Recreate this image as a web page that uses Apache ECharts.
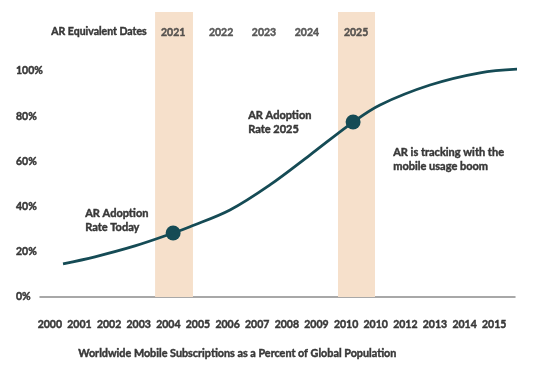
<!DOCTYPE html>
<html>
<head>
<meta charset="utf-8">
<script src="https://cdn.jsdelivr.net/npm/echarts@6/dist/echarts.min.js"></script>
<style>
html,body{margin:0;padding:0;background:#fff;}
#c{width:535px;height:365px;}
</style>
</head>
<body>
<div id="c"></div>
<script>
// Category tick labels along the bottom (as printed in the original)
var xLabels = ['2000','2001','2002','2003','2004','2005','2006','2007','2008','2009','2010','2010','2012','2013','2014','2015'];
// Adoption curve: x in years, y in percent
var curveYears = [2000.44, 2001.52, 2002.87, 2004.16, 2004.73, 2006.08, 2007.43, 2008.78, 2010.24, 2011.15, 2012.84, 2014.53, 2015.88];
var curveValues = [14.7, 17.8, 22.6, 28.3, 31.1, 38.5, 49.6, 62.8, 77.4, 85.0, 93.8, 99.2, 100.9];
// Highlighted adoption points
var markerYears = [2004.16, 2010.24];
var markerValues = [28.3, 77.4];
// Highlight bands (year ranges)
var bandStart = [2003.55, 2009.73];
var bandEnd = [2004.83, 2010.98];
// AR equivalent dates row
var arDates = ['2021', '2022', '2023', '2024', '2025'];
var arDateYears = [2004.16, 2005.78, 2007.23, 2008.68, 2010.34];
var arDateLevel = 116.8;

var TXT = '#383838';
var FONT = 'Lato';
var LINE = '#154b55';
var BAND = '#f6e0cb';
var SW = 0.45;

var chart = echarts.init(document.getElementById('c'), null, {renderer: 'canvas'});

var curveData = curveYears.map(function (y, i) { return [y, curveValues[i]]; });
var markerData = markerYears.map(function (y, i) { return [y, markerValues[i]]; });
var arData = arDates.map(function (d, i) { return {name: d, value: [arDateYears[i], arDateLevel]}; });
var bands = bandStart.map(function (s, i) {
  return [{xAxis: s, yAxis: 0}, {xAxis: bandEnd[i], yAxis: 126.1}];
});

function gtext(left, top, text, size) {
  return {type: 'text', left: left, top: top,
    style: {text: text, fill: TXT, font: 'bold ' + size + 'px Lato', lineHeight: 14, stroke: TXT, lineWidth: SW}};
}

var option = {
  animation: false,
  backgroundColor: '#fff',
  textStyle: {fontFamily: FONT},
  grid: [
    {left: 40, top: 12, width: 475, height: 285},
    {left: 35, top: 12, width: 474, height: 285}
  ],
  xAxis: [
    {
      type: 'value', gridIndex: 0, min: 1999.662, max: 2015.71,
      axisLine: {show: true, onZero: false, lineStyle: {color: '#8c8c8c', width: 1.5}},
      axisTick: {show: false}, axisLabel: {show: false}, splitLine: {show: false}
    },
    {
      type: 'category', gridIndex: 1, data: xLabels, boundaryGap: true,
      axisLine: {show: false}, axisTick: {show: false}, splitLine: {show: false},
      axisLabel: {margin: 22, color: TXT, fontWeight: 'bold', fontSize: 10.5, fontFamily: FONT, interval: 0,
        textBorderColor: TXT, textBorderWidth: SW}
    }
  ],
  yAxis: [
    {
      type: 'value', gridIndex: 0, min: 0, max: 126.1, interval: 20,
      axisLine: {show: false}, axisTick: {show: false}, splitLine: {show: false},
      axisLabel: {
        margin: 24, align: 'left', color: TXT, fontWeight: 'bold', fontSize: 10.5, fontFamily: FONT,
        textBorderColor: TXT, textBorderWidth: SW,
        formatter: function (v) { return v <= 100 ? v + '%' : ''; }
      }
    },
    {
      type: 'value', gridIndex: 1, min: 0, max: 100, show: false
    }
  ],
  graphic: [
    gtext(51, 25, 'AR Equivalent Dates', 10.5),
    gtext(85, 206, 'AR Adoption\nRate Today', 11),
    gtext(248, 108, 'AR Adoption\nRate 2025', 11),
    gtext(393, 145, 'AR is tracking with the\nmobile usage boom', 11),
    gtext(78, 347, 'Worldwide Mobile Subscriptions as a Percent of Global Population', 10.8)
  ],
  series: [
    {
      type: 'line', xAxisIndex: 0, yAxisIndex: 0, data: [], silent: true,
      markArea: {silent: true, itemStyle: {color: BAND}, data: bands}
    },
    {
      type: 'line', xAxisIndex: 0, yAxisIndex: 0, data: curveData, smooth: 0.35,
      showSymbol: false, clip: false, lineStyle: {color: LINE, width: 2.8}
    },
    {
      type: 'scatter', xAxisIndex: 0, yAxisIndex: 0, data: markerData,
      symbolSize: 15, itemStyle: {color: LINE, opacity: 1}
    },
    {
      type: 'scatter', xAxisIndex: 0, yAxisIndex: 0, data: arData, symbolSize: 0,
      label: {show: true, position: 'inside', formatter: '{b}', color: TXT, fontWeight: 'bold', fontSize: 10.5, fontFamily: FONT,
        textBorderColor: TXT, textBorderWidth: SW}
    }
  ]
};
chart.setOption(option);
</script>
</body>
</html>
